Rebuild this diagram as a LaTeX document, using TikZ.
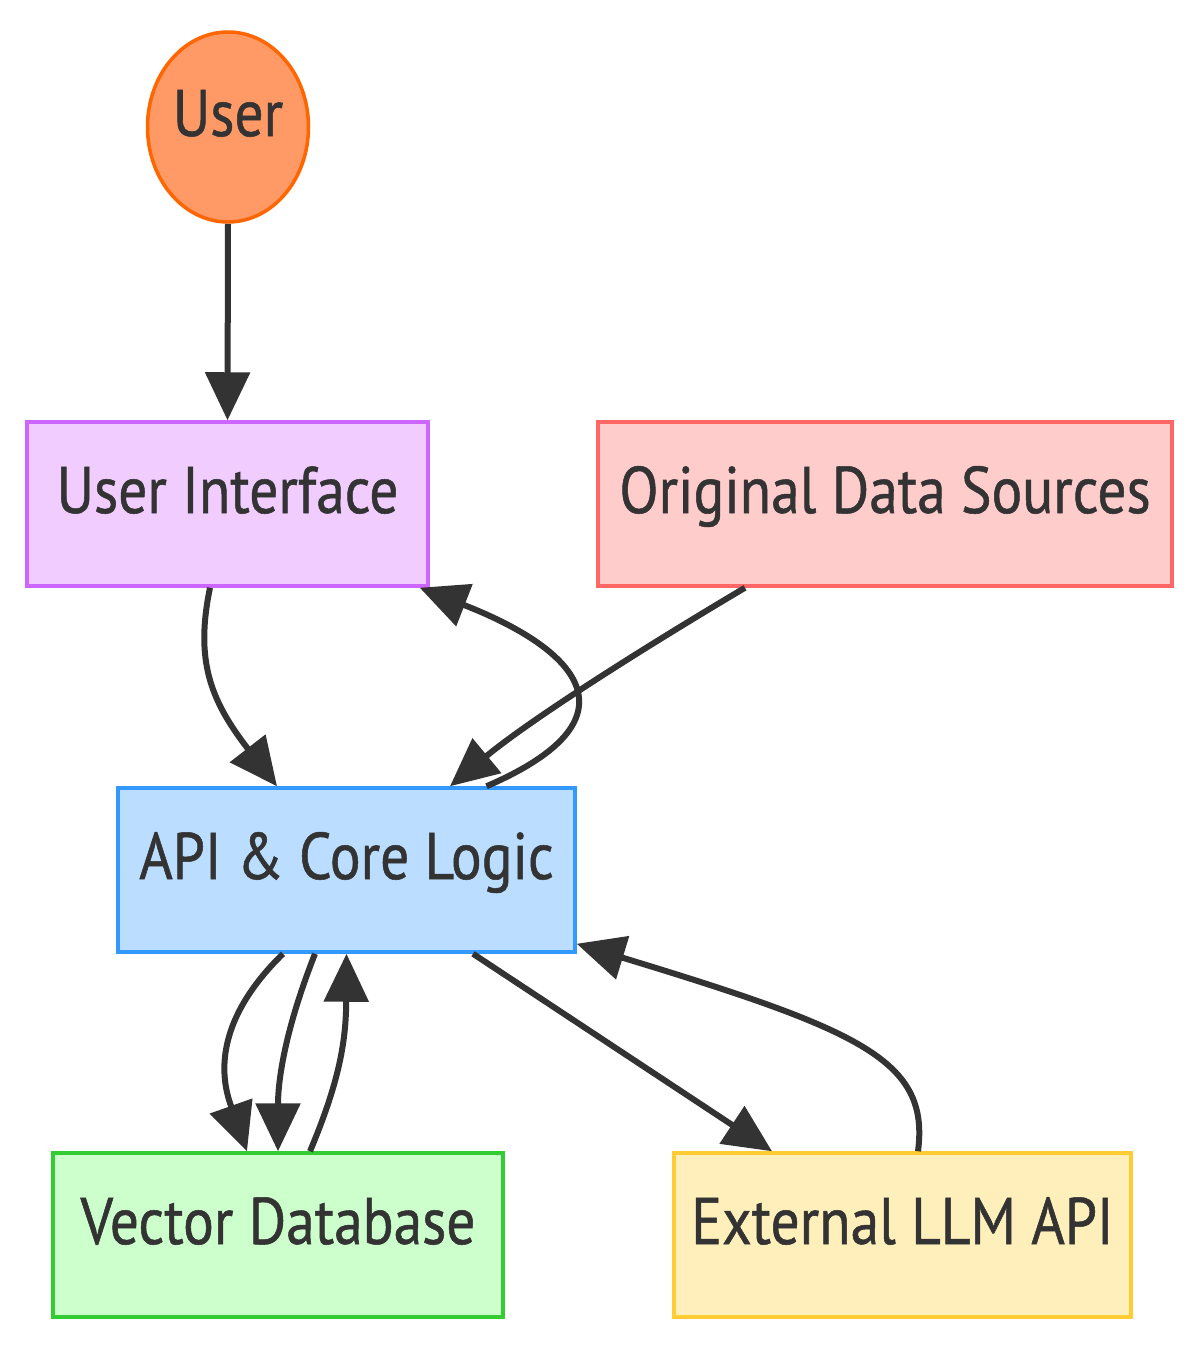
\documentclass[tikz,border=0pt]{standalone}
\usepackage{fontspec}
\setmainfont[FakeStretch=0.87,FakeBold=0.8]{PT Sans}
\usetikzlibrary{shapes.geometric,arrows.meta}
\definecolor{txt}{HTML}{333333}
\definecolor{userfill}{HTML}{FF9966}
\definecolor{userline}{HTML}{FF6600}
\definecolor{uifill}{HTML}{F0CCFF}
\definecolor{uiline}{HTML}{CC66FF}
\definecolor{odsfill}{HTML}{FFCCCC}
\definecolor{odsline}{HTML}{FF6666}
\definecolor{apifill}{HTML}{BBDDFF}
\definecolor{apiline}{HTML}{3399FF}
\definecolor{vdbfill}{HTML}{CCFFCC}
\definecolor{vdbline}{HTML}{33CC33}
\definecolor{llmfill}{HTML}{FFF0BB}
\definecolor{llmline}{HTML}{FFCC33}
\tikzset{
  lbl/.style={font=\fontsize{66}{70}\selectfont, text=txt, text height=46pt, text depth=28pt, inner sep=0pt, line width=3.5pt},
  box/.style={lbl, rectangle, minimum height=164pt},
  conn/.style={draw=txt, line width=6pt, -{Triangle[length=48pt,width=44pt]}},
}
\begin{document}
\begin{tikzpicture}[x=1pt,y=-1pt]
\useasboundingbox (0,0) rectangle (1200,1350);
\node[lbl, ellipse, inner xsep=-25pt, inner ysep=-15pt, minimum width=161pt, minimum height=190pt, draw=userline, fill=userfill] (user) at (228,127) {User};
\node[box, minimum width=401pt, draw=uiline, fill=uifill] (ui) at (227.5,504) {User Interface};
\node[box, minimum width=574pt, draw=odsline, fill=odsfill] (ods) at (885,504) {Original Data Sources};
\node[box, minimum width=457pt, draw=apiline, fill=apifill] (api) at (346.5,870) {API \& Core Logic};
\node[box, minimum width=450pt, draw=vdbline, fill=vdbfill] (vdb) at (278,1235) {Vector Database};
\node[box, minimum width=457pt, draw=llmline, fill=llmfill] (llm) at (902.5,1235) {External LLM API};

\draw[conn] (user.south) -- (ui.north);
\draw[conn] ([xshift=-17.5pt]ui.south) .. controls (195,660) and (210,700) .. ([xshift=-69.5pt]api.north);
\draw[conn] ([xshift=140pt]api.north) .. controls (640,720) and (582,651) .. ([xshift=-10pt]ui.south east);
\draw[conn] ([xshift=-140pt]ods.south) .. controls (640,650) and (530,720) .. ([xshift=103.5pt]api.north);
\draw[conn] ([xshift=-63.5pt]api.south) .. controls (205,1030) and (225,1089) .. ([xshift=-31pt]vdb.north);
\draw[conn] ([xshift=-31.5pt]api.south) .. controls (285,1030) and (278,1080) .. (vdb.north);
\draw[conn] ([xshift=32pt]vdb.north) .. controls (340,1080) and (346,1040) .. (api.south);
\draw[conn] ([xshift=126.5pt]api.south) -- ([xshift=-130.5pt]llm.north);
\draw[conn] ([xshift=15.5pt]llm.north) .. controls (930,1060) and (860,1030) .. ([yshift=10pt]api.south east);
\end{tikzpicture}
\end{document}
